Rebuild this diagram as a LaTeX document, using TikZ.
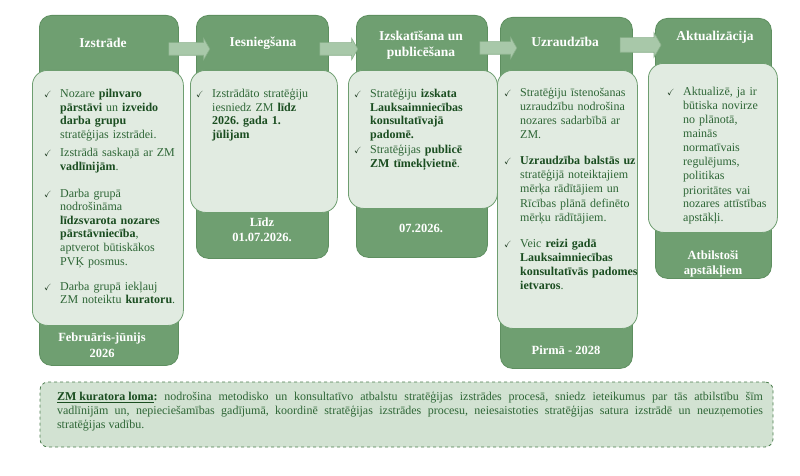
\documentclass[tikz,border=0pt]{standalone}
\usepackage{amssymb}
\usepackage{fontspec}
\setmainfont{Liberation Serif}
\usepackage{enumitem}
\usetikzlibrary{shapes.arrows}

\definecolor{stagefill}{HTML}{6F9F71}
\definecolor{stageline}{HTML}{5E8F60}
\definecolor{cardfill}{HTML}{E1EBE1}
\definecolor{cardline}{HTML}{6E9E70}
\definecolor{flowfill}{HTML}{A8C8A9}
\definecolor{flowline}{HTML}{89B08A}
\definecolor{txtgreen}{HTML}{2E6636}
\definecolor{boldgreen}{HTML}{1A4D20}
\definecolor{checkgreen}{HTML}{1F3D22}
\definecolor{notefill}{HTML}{D2E2D2}
\definecolor{noteline}{HTML}{4C7D4E}

\newlist{checks}{itemize}{1}
\setlist[checks]{label={\color{checkgreen}\fontsize{9}{9}\selectfont$\checkmark$}, align=left, leftmargin=16pt, labelwidth=10pt, labelsep=6pt, topsep=0pt, partopsep=0pt, parsep=0pt, itemsep=4.5pt}
\newcommand{\kw}[1]{\textbf{\color{boldgreen}#1}}
\frenchspacing

\begin{document}
\begin{tikzpicture}[x=1pt, y=-1pt,
    stage/.style 2 args = {draw=stageline, fill=stagefill, line width=0.8pt, rounded corners=12pt, minimum width=#1, minimum height=#2, anchor=north west, inner sep=0},
    card/.style 2 args = {draw=cardline, fill=cardfill, line width=0.8pt, rounded corners=15pt, minimum width=#1, minimum height=#2, anchor=north west, inner sep=0},
    title/.style = {text=white, font=\fontsize{13.5}{16}\selectfont\bfseries, align=center},
    date/.style = {text=white, font=\fontsize{12.5}{15.5}\selectfont\bfseries, align=center},
    items/.style = {anchor=north west, inner sep=0, text width=175pt, align=left, text=txtgreen, font=\fontsize{12}{13.6}\selectfont},
    flow/.style = {single arrow, draw=flowline, fill=flowfill, line width=0.6pt, inner xsep=0, inner ysep=6pt, minimum height=#1, single arrow head extend=4.5pt, single arrow tip angle=120}]
    \useasboundingbox (0,0) rectangle (800,476);
    \node[stage={139pt}{350pt}] (s1) at (39,15) {};
    \node[stage={132pt}{243pt}] (s2) at (196,15) {};
    \node[stage={131pt}{242pt}] (s3) at (356,15) {};
    \node[stage={132pt}{351pt}] (s4) at (500,17) {};
    \node[stage={116pt}{260pt}] (s5) at (655,18) {};
    \node[flow=41pt] (f1) at (187.5,49) {};
    \node[flow=38pt] (f2) at (337,49) {};
    \node[flow=37pt] (f3) at (496.5,48) {};
    \node[flow=41pt, inner ysep=7pt, single arrow head extend=5pt] (f4) at (638.5,45) {};
    \node[card={151pt}{255pt}] (c1) at (32,70) {};
    \node[card={147pt}{142pt}] (c2) at (190,70) {};
    \node[card={149pt}{138pt}] (c3) at (348,70) {};
    \node[card={140pt}{258pt}] (c4) at (497,70) {};
    \node[card={129pt}{169pt}] (c5) at (648,63) {};
    \node[title] (t1) at (103,43) {Izstrāde};
    \node[title] (t2) at (263,43) {Iesniegšana};
    \node[title] (t3) at (421,45) {Izskatīšana un\\publicēšana};
    \node[title] (t4) at (565,42) {Uzraudzība};
    \node[title] (t5) at (715,37) {Aktualizācija};
    \node[date] (d1) at (102,345) {Februāris-jūnijs\\2026};
    \node[date] (d2) at (262,230) {Līdz\\01.07.2026.};
    \node[date] (d3) at (421,228) {07.2026.};
    \node[date] (d4) at (566,350) {Pirmā - 2028};
    \node[date] (d5) at (713,264) {Atbilstoši\\apstākļiem};
    \node[items] (l1) at (44,83.8) {\begin{checks}
        \item Nozare \kw{pilnvaro}\newline \kw{pārstāvi} un \kw{izveido}\newline \kw{darba grupu}\newline stratēģijas izstrādei.
        \item Izstrādā saskaņā ar ZM\newline \kw{vadlīnijām}.\par\vspace{9pt}
        \item Darba grupā\newline nodrošināma\newline \kw{līdzsvarota nozares}\newline \kw{pārstāvniecība},\newline aptverot būtiskākos\newline PVĶ posmus.\par\vspace{7pt}
        \item Darba grupā iekļauj\newline ZM noteiktu \kw{kuratoru}.
      \end{checks}};
    \node[items] (l2) at (196,83.8) {\begin{checks}
        \item Izstrādāto stratēģiju\newline iesniedz ZM \kw{līdz}\newline \kw{2026. gada 1.}\newline \kw{jūlijam}
      \end{checks}};
    \node[items] (l3) at (354,83.8) {\begin{checks}[itemsep=1.5pt]
        \item Stratēģiju \kw{izskata}\newline \kw{Lauksaimniecības}\newline \kw{konsultatīvajā}\newline \kw{padomē.}
        \item Stratēģijas \kw{publicē}\newline \kw{ZM tīmekļvietnē}.
      \end{checks}};
    \node[items, font=\fontsize{12}{14.2}\selectfont] (l4) at (504,81.8) {\begin{checks}[itemsep=11.5pt]
        \item Stratēģiju īstenošanas\newline uzraudzību nodrošina\newline nozares sadarbībā ar\newline ZM.
        \item \kw{Uzraudzība balstās uz}\newline stratēģijā noteiktajiem\newline mērķa rādītājiem un\newline Rīcības plānā definēto\newline mērķu rādītājiem.
        \item Veic \kw{reizi gadā}\newline \kw{Lauksaimniecības}\newline \kw{konsultatīvās padomes}\newline \kw{ietvaros}.
      \end{checks}};
    \node[items, font=\fontsize{12}{14}\selectfont] (l5) at (667,81.8) {\begin{checks}
        \item Aktualizē, ja ir\newline būtiska novirze\newline no plānotā,\newline mainās\newline normatīvais\newline regulējums,\newline politikas\newline prioritātes vai\newline nozares attīstības\newline apstākļi.
      \end{checks}};
    \node[draw=noteline, fill=notefill, dashed, line width=0.8pt, rounded corners=8pt, minimum width=733pt, minimum height=65pt, inner sep=0] (note) at (406.5,414.5) {};
    \node[text width=706pt, align=justify, inner sep=0, text=txtgreen, font=\fontsize{12}{14}\selectfont] (notetxt) at (410,411) {\kw{\underline{ZM kuratora loma}:} nodrošina metodisko un konsultatīvo atbalstu stratēģijas izstrādes procesā, sniedz ieteikumus par tās atbilstību šīm\linebreak vadlīnijām un, nepieciešamības gadījumā, koordinē stratēģijas izstrādes procesu, neiesaistoties stratēģijas satura izstrādē un neuzņemoties\linebreak stratēģijas vadību.};
\end{tikzpicture}
\end{document}
